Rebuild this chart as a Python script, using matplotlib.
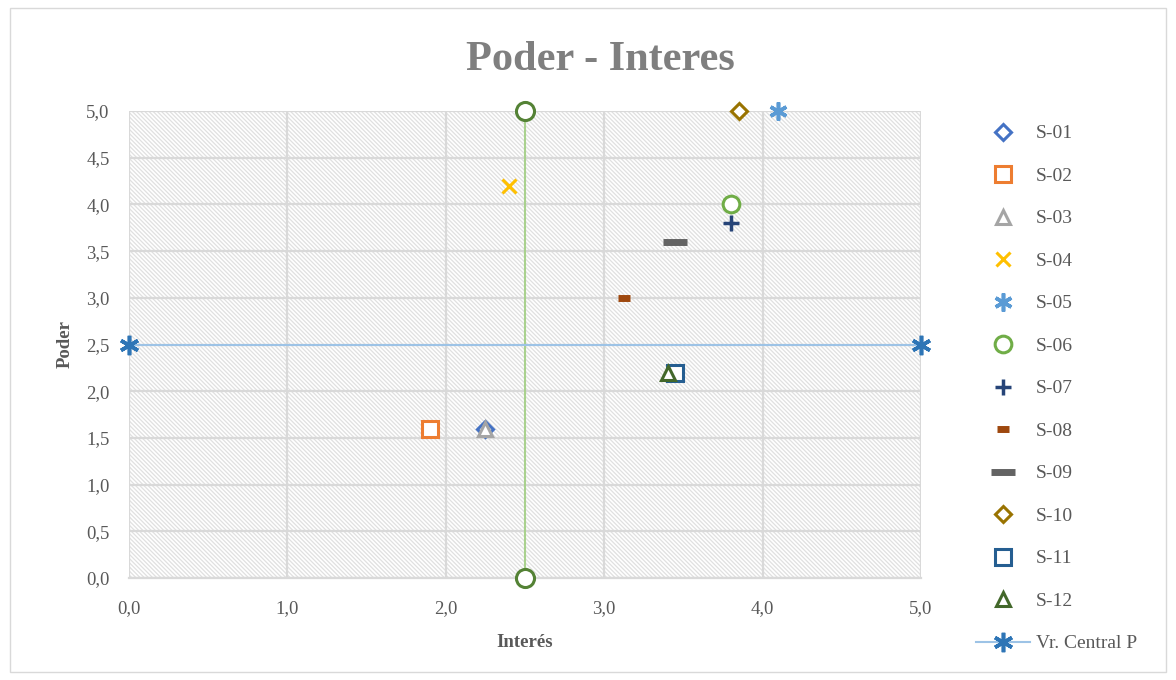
import matplotlib
matplotlib.use("Agg")
import matplotlib.pyplot as plt
from matplotlib.patches import Rectangle
from matplotlib.ticker import FuncFormatter, MultipleLocator

plt.rcParams['font.family'] = ['Liberation Serif', 'DejaVu Serif']
plt.rcParams['hatch.linewidth'] = 0.9

# stakeholders: (interes, poder)
labels = ['S-01', 'S-02', 'S-03', 'S-04', 'S-05', 'S-06',
          'S-07', 'S-08', 'S-09', 'S-10', 'S-11', 'S-12']
interes = [2.25, 1.9, 2.25, 2.4, 4.1, 3.8, 3.8, 3.125, 3.45, 3.85, 3.45, 3.4]
poder = [1.6, 1.6, 1.6, 4.2, 5.0, 4.0, 3.8, 3.0, 3.6, 5.0, 2.2, 2.2]

# central reference lines
central_i_x = [2.5, 2.5]
central_i_y = [0.0, 5.0]
central_p_x = [0.0, 5.0]
central_p_y = [2.5, 2.5]

colors = ['#4472C4', '#ED7D31', '#A5A5A5', '#FFC000', '#5B9BD5', '#70AD47',
          '#264478', '#9E480E', '#636363', '#997300', '#255E91', '#43682B']
markers = ['D', 's', '^', 'x', (6, 2, 0), 'o', '+', '_', '_', 'D', 's', '^']
msizes = [8.5, 11, 10, 10, 13, 12, 11, 9, 17, 8.5, 11, 10]
mews = [2.2, 2.2, 2.2, 2.2, 2.6, 2.2, 2.5, 5, 5, 2.2, 2.2, 2.2]

fig = plt.figure(figsize=(11.76, 6.8), dpi=100)
ax = fig.add_axes([129/1176, 1 - 578/680, (921 - 129)/1176, (578 - 111)/680])

# outer chart border
fig.patches.append(Rectangle((10/1176, 8/680), 1156/1176, 664/680,
                             transform=fig.transFigure, fill=False,
                             edgecolor='#d9d9d9', linewidth=1))

# hatched plot area
ax.add_patch(Rectangle((0, 0), 1, 1, transform=ax.transAxes, facecolor='white',
                       edgecolor='#e0e0e0', hatch='\\\\\\\\\\\\\\\\', linewidth=0, zorder=0))

ax.plot(central_i_x, central_i_y, color='#A9D18E', linewidth=1.5, marker='o',
        markersize=13, markerfacecolor='white', markeredgecolor='#548235',
        markeredgewidth=2.2, label='_nolegend_', zorder=3, clip_on=False)

for i in range(len(labels)):
    ax.plot(interes[i], poder[i], linestyle='none', marker=markers[i],
            markersize=msizes[i], markerfacecolor='white' if markers[i] in ('D', 's', '^', 'o') else colors[i],
            markeredgecolor=colors[i], markeredgewidth=mews[i],
            label=labels[i], zorder=4, clip_on=False)

ax.plot(central_p_x, central_p_y, color='#9DC3E6', linewidth=1.5, marker=(6, 2, 0),
        markersize=14, markeredgecolor='#2E75B6', markeredgewidth=2.6,
        label='Vr. Central P', zorder=3, clip_on=False)

ax.set_xlim(0, 5)
ax.set_ylim(0, 5)
ax.xaxis.set_major_locator(MultipleLocator(1.0))
ax.yaxis.set_major_locator(MultipleLocator(0.5))
fmt = FuncFormatter(lambda v, p: f"{v:.1f}".replace('.', ','))
ax.xaxis.set_major_formatter(fmt)
ax.yaxis.set_major_formatter(fmt)
ax.tick_params(length=0, labelsize=13.5, colors='#595959')
ax.tick_params(axis='x', pad=16)
ax.tick_params(axis='y', pad=14)
ax.grid(True, color='#d9d9d9', linewidth=1.6, zorder=1)
ax.set_axisbelow(True)
for s in ['top', 'right', 'left']:
    ax.spines[s].set_visible(False)
ax.spines['bottom'].set_color('#d9d9d9')
ax.spines['bottom'].set_linewidth(1.6)

ax.set_xlabel('Interés', fontsize=13.5, fontweight='bold', color='#595959', labelpad=12)
ax.set_ylabel('Poder', fontsize=13.5, fontweight='bold', color='#595959', labelpad=9)
fig.text(600/1176, 1 - 60/680, 'Poder - Interes', ha='center', va='center',
         fontsize=30.5, fontweight='bold', color='#7f7f7f')

fig.legend(loc='upper left', bbox_to_anchor=(968/1176, 1 - 117/680), frameon=False,
           fontsize=14, labelspacing=1.28, handlelength=2.8, handletextpad=0.3,
           labelcolor='#595959', borderaxespad=0)

fig.savefig('out.png', dpi=100)
